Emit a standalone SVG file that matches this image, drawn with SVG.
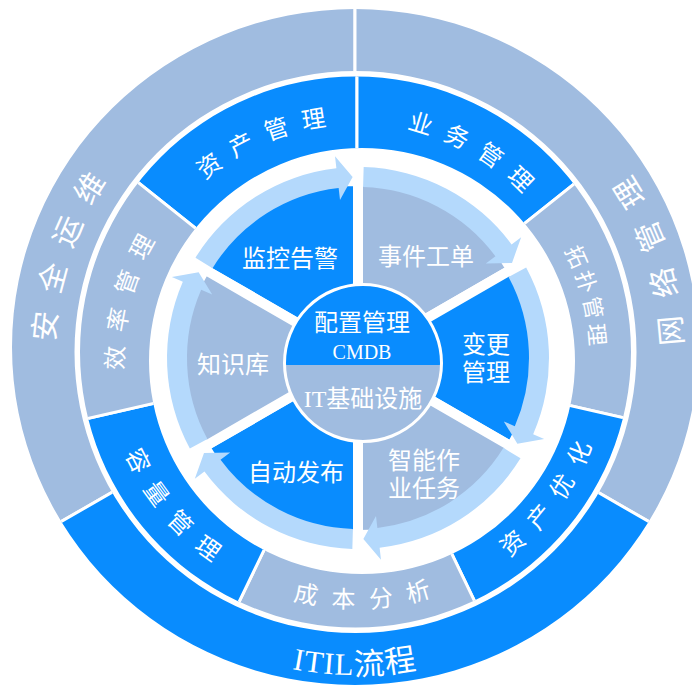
<svg xmlns="http://www.w3.org/2000/svg" width="692" height="689" viewBox="0 0 692 689">
<style>
.blue{fill:#098cfe}
.gray{fill:#a0bce0}
.band{fill:#b4d9fc}
.seg{stroke:#fff;stroke-width:3}
.sec{stroke:#fff;stroke-width:10;stroke-linejoin:round}
text{fill:#fff;font-family:"Noto Sans CJK SC","Noto Sans",sans-serif}
.ring{font-size:24px;text-anchor:middle}
.outer{font-size:30px;text-anchor:middle}
.lbl{font-size:24px;text-anchor:middle}
.serif{font-family:"Liberation Serif",serif}
</style>
<defs>
<clipPath id="clipOuter"><path clip-rule="evenodd" d="M12,347 A343,338 0 1 0 698,347 A343,338 0 1 0 12,347 Z M74.5,352 A281,281 0 1 0 636.5,352 A281,281 0 1 0 74.5,352 Z"/></clipPath>
<clipPath id="clipMid"><path clip-rule="evenodd" d="M80,352 A275.5,275.5 0 1 0 631,352 A275.5,275.5 0 1 0 80,352 Z M149,361 A213,213 0 1 0 575,361 A213,213 0 1 0 149,361 Z"/></clipPath>
<path id="sector" d="M358,358 L204.71,269.5 A177,177 0 0 1 358,181 Z"/>
<path id="arrow" d="M195.5,257.64 A191,191 0 0 1 336.38,168.23 L335.02,156.31 L352.63,177.08 L340,200.02 L338.64,188.1 A171,171 0 0 0 212.51,268.14 Z"/>
<path id="aZC" d="M150.33,249.41 A233,233 0 0 1 427.07,134.78"/>
<path id="aYW" d="M318.54,127.19 A233,233 0 0 1 576.64,279.22"/>
<path id="aTP" d="M492.3,167.31 A233,233 0 0 1 567.3,457.31"/>
<path id="aXL" d="M145.83,455.47 A233,233 0 0 1 223.36,166.14"/>
<path id="aYH" d="M421.96,599.45 A251,251 0 0 0 607.04,335.12"/>
<path id="aCB" d="M205.94,557.46 A251,251 0 0 0 528.18,540.57"/>
<path id="aRL" d="M106.01,359.19 A251,251 0 0 0 315.57,604.56"/>
<path id="aAQ" d="M74,455.06 A300,300 0 0 1 202.74,91.51"/>
<path id="aWL" d="M659.25,469.85 A327,327 0 0 0 525.86,71.19"/>
<path id="aIT" d="M146.09,598.96 A325,325 0 0 0 563.91,598.96"/>
</defs>
<rect width="692" height="689" fill="#fff"/>

<g id="outer-ring">
<g id="node-anquan">
<path class="gray seg" clip-path="url(#clipOuter)" d="M355,352 L355,-128 L115,-63.7 L-60.7,112 L-125,352 L-60.7,592 Z"/>
<text class="outer" letter-spacing="17"><textPath href="#aAQ" startOffset="50%">安全运维</textPath></text>
</g>
<g id="node-wangluo">
<path class="gray seg" clip-path="url(#clipOuter)" d="M355,352 L355,-128 L595,-63.7 L770.7,112 L835,352 L770.7,592 Z"/>
<text class="outer" letter-spacing="20"><textPath href="#aWL" startOffset="50%">网络管理</textPath></text>
</g>
<g id="node-itil">
<path class="blue seg" clip-path="url(#clipOuter)" d="M355,352 L-60.7,592 L115,767.7 L355,832 L595,767.7 L770.7,592 Z"/>
<text class="outer" style="font-size:31px" letter-spacing="1"><textPath href="#aIT" startOffset="50%"><tspan class="serif">ITIL</tspan>流程</textPath></text>
</g>
</g>

<g id="middle-ring">
<g id="node-zichan">
<path class="blue seg" clip-path="url(#clipMid)" d="M357,357 L357,-123 L-18.3,57.7 Z"/>
<text class="ring" letter-spacing="13"><textPath href="#aZC" startOffset="50%">资产管理</textPath></text>
</g>
<g id="node-yewu">
<path class="blue seg" clip-path="url(#clipMid)" d="M357,357 L732.3,57.7 L357,-123 Z"/>
<text class="ring" letter-spacing="13"><textPath href="#aYW" startOffset="50%">业务管理</textPath></text>
</g>
<g id="node-tuopu">
<path class="gray seg" clip-path="url(#clipMid)" d="M357,357 L825,463.8 L732.3,57.7 Z"/>
<text class="ring" style="font-size:22px" letter-spacing="4"><textPath href="#aTP" startOffset="50%">拓扑管理</textPath></text>
</g>
<g id="node-youhua">
<path class="blue seg" clip-path="url(#clipMid)" d="M357,357 L565.3,789.5 L825,463.8 Z"/>
<text class="ring" letter-spacing="15"><textPath href="#aYH" startOffset="50%">资产优化</textPath></text>
</g>
<g id="node-chengben">
<path class="gray seg" clip-path="url(#clipMid)" d="M357,357 L148.7,789.5 L565.3,789.5 Z"/>
<text class="ring" letter-spacing="15"><textPath href="#aCB" startOffset="50%">成本分析</textPath></text>
</g>
<g id="node-rongliang">
<path class="blue seg" clip-path="url(#clipMid)" d="M357,357 L-111,463.8 L148.7,789.5 Z"/>
<text class="ring" letter-spacing="15"><textPath href="#aRL" startOffset="50%">容量管理</textPath></text>
</g>
<g id="node-xiaolv">
<path class="gray seg" clip-path="url(#clipMid)" d="M357,357 L-18.3,57.7 L-111,463.8 Z"/>
<text class="ring" letter-spacing="13"><textPath href="#aXL" startOffset="50%">效率管理</textPath></text>
</g>
</g>

<g id="inner-sectors">
<g id="node-jiankong"><use href="#sector" class="blue sec"/><text class="lbl" x="290" y="267">监控告警</text></g>
<g id="node-shijian"><use href="#sector" transform="rotate(60 358 358)" class="gray sec"/><text class="lbl" x="426" y="265">事件工单</text></g>
<g id="node-biangeng"><use href="#sector" transform="rotate(120 358 358)" class="blue sec"/><text class="lbl" x="486" y="353">变更<tspan x="486" dy="28">管理</tspan></text></g>
<g id="node-zhineng"><use href="#sector" transform="rotate(180 358 358)" class="gray sec"/><text class="lbl" x="424" y="469">智能作<tspan x="424" dy="28">业任务</tspan></text></g>
<g id="node-zidong"><use href="#sector" transform="rotate(240 358 358)" class="blue sec"/><text class="lbl" x="296" y="481">自动发布</text></g>
<g id="node-zhishi"><use href="#sector" transform="rotate(300 358 358)" class="gray sec"/><text class="lbl" x="233" y="373">知识库</text></g>
</g>

<g id="connectors">
<use href="#arrow" class="band"/>
<use href="#arrow" class="band" transform="rotate(60 358 358)"/>
<use href="#arrow" class="band" transform="rotate(120 358 358)"/>
<use href="#arrow" class="band" transform="rotate(180 358 358)"/>
<use href="#arrow" class="band" transform="rotate(240 358 358)"/>
<use href="#arrow" class="band" transform="rotate(300 358 358)"/>
</g>

<g id="node-cmdb">
<circle class="gray" cx="363" cy="363" r="78.5"/>
<path class="blue" d="M284.53,365 A78.5,78.5 0 1 1 441.47,365 Z"/>
<circle cx="363" cy="363" r="78.5" fill="none" stroke="#fff" stroke-width="3"/>
<text class="lbl" x="362" y="331">配置管理</text>
<text class="lbl serif" x="362" y="359" style="font-size:20px">CMDB</text>
<text class="lbl" x="363" y="407"><tspan class="serif">IT</tspan>基础设施</text>
</g>
</svg>
